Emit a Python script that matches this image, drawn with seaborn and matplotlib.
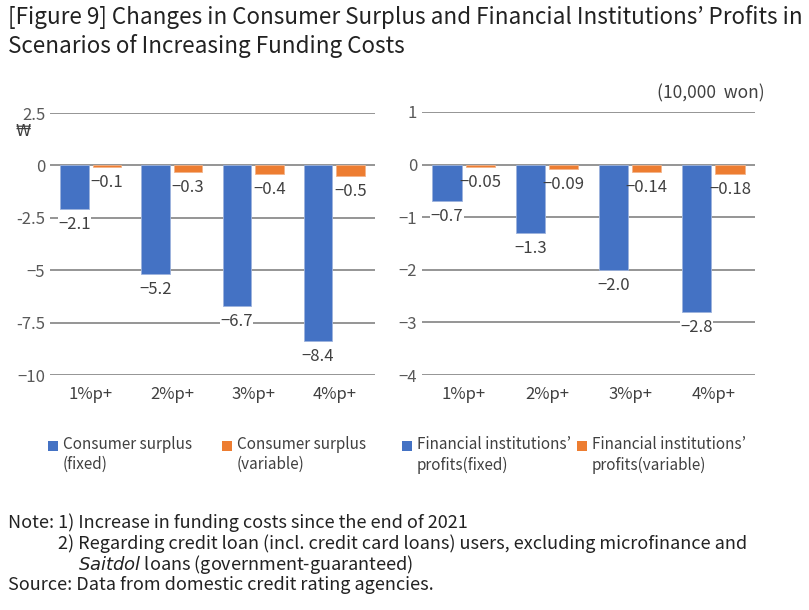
import pandas as pd
import seaborn as sns
import matplotlib.pyplot as plt
from matplotlib.patches import Rectangle

sns.set_style("white")
plt.rcParams["font.family"] = ["Noto Sans CJK KR", "DejaVu Sans"]

categories = ["1%p+", "2%p+", "3%p+", "4%p+"]
consumer_fixed = [-2.1, -5.2, -6.7, -8.4]
consumer_variable = [-0.1, -0.3, -0.4, -0.5]
fi_fixed = [-0.7, -1.3, -2.0, -2.8]
fi_variable = [-0.05, -0.09, -0.14, -0.18]

blue = "#4472C4"
orange = "#ED7D31"
grid_c = "#8c8c8c"
txt_c = "#404040"

consumer_df = pd.DataFrame({
    "scenario": categories * 2,
    "value": consumer_fixed + consumer_variable,
    "series": ["fixed"] * 4 + ["variable"] * 4,
})
fi_df = pd.DataFrame({
    "scenario": categories * 2,
    "value": fi_fixed + fi_variable,
    "series": ["fixed"] * 4 + ["variable"] * 4,
})

fig = plt.figure(figsize=(8.09, 6.10), dpi=100)
ax1 = fig.add_axes([50/809, 1-375/610, 325/809, 262/610])
ax2 = fig.add_axes([422/809, 1-375/610, 333/809, 263/610])


def fmt(v, nd):
    return f"{v:.{nd}f}".replace("-", "\u2212")


def draw(ax, df, ylim, yticks, decimals):
    sns.barplot(data=df, x="scenario", y="value", hue="series",
                palette={"fixed": blue, "variable": orange},
                width=0.8, gap=0.12, saturation=1, legend=False, ax=ax,
                edgecolor="#9db3dd", linewidth=0.6)
    for i, (cont, nd) in enumerate(zip(ax.containers, decimals)):
        vals = [b.get_height() for b in cont]
        # blue labels can sit on a gridline -> white box behind them
        box = dict(facecolor="white", edgecolor="none", pad=0.3) if i == 0 else None
        ax.bar_label(cont, labels=[fmt(v, nd) for v in vals], padding=5,
                     fontsize=12, color=txt_c, bbox=box)
    ax.set_ylim(ylim)
    ax.set_yticks(yticks)
    ax.set_xlim(-0.5, 3.5)
    ax.yaxis.grid(True, color=grid_c, lw=1.3)
    ax.set_axisbelow(True)
    for s in ax.spines.values():
        s.set_visible(False)
    ax.tick_params(axis="both", length=0, labelsize=12, colors="#595959")
    ax.tick_params(axis="x", colors=txt_c, pad=8)
    ax.set_xlabel("")
    ax.set_ylabel("")


draw(ax1, consumer_df, (-10, 2.5), [2.5, 0, -2.5, -5, -7.5, -10], [1, 1])
ax1.set_yticklabels(["2.5", "0", "-2.5", "\u22125", "-7.5", "\u221210"])
draw(ax2, fi_df, (-4, 1), [1, 0, -1, -2, -3, -4], [1, 2])
for ax in (ax1, ax2):
    for b in ax.containers[1]:
        b.set_edgecolor("#f3b48a")

fig.text(23/809, 1-131/610, "\u20a9", fontsize=11, color=txt_c,
         ha="center", va="center", family="DejaVu Sans")
fig.text(765/809, 1-93/610, "(10,000  won)", fontsize=12.5, color=txt_c,
         ha="right", va="center")

fig.text(8/809, 1-5/610,
         "[Figure 9] Changes in Consumer Surplus and Financial Institutions\u2019 Profits in\n"
         "Scenarios of Increasing Funding Costs",
         fontsize=16.2, color="#222222", ha="left", va="top", linespacing=1.25)

# legend drawn by hand so the square sits on the first text line
leg_items = [
    (48, blue, "Consumer surplus\n(fixed)"),
    (222, orange, "Consumer surplus\n(variable)"),
    (402, blue, "Financial institutions\u2019\nprofits(fixed)"),
    (577, orange, "Financial institutions\u2019\nprofits(variable)"),
]
for x, c, lab in leg_items:
    fig.patches.append(Rectangle((x/809, 1-451/610), 10/809, 10/610,
                                 facecolor=c, edgecolor="none",
                                 transform=fig.transFigure))
    fig.text((x+15)/809, 1-436/610, lab, fontsize=11, color=txt_c,
             ha="left", va="top", linespacing=1.25)

notes = [
    (8, 523, "Note: 1) Increase in funding costs since the end of 2021"),
    (58, 544, "2) Regarding credit loan (incl. credit card loans) users, excluding microfinance and"),
    (78, 564, "$\\it{Saitdol}$ loans (government-guaranteed)"),
    (8, 585, "Source: Data from domestic credit rating agencies."),
]
for x, y, t in notes:
    fig.text(x/809, 1-y/610, t, fontsize=13, color="#222222",
             ha="left", va="center")

fig.savefig("out.png", dpi=100)
